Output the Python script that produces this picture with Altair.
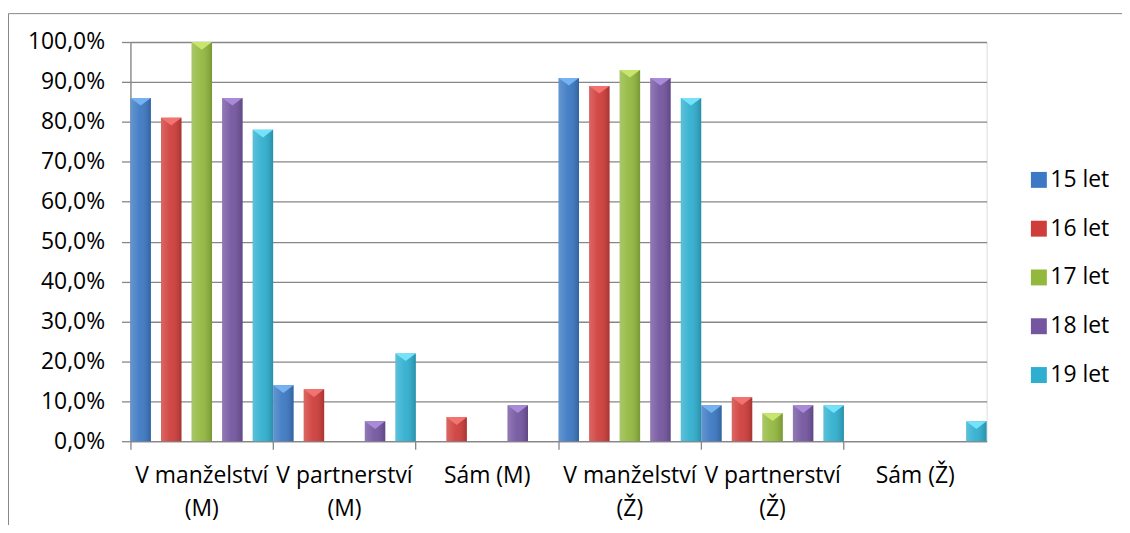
import altair as alt
import pandas as pd

categories = ["V manželství\n(M)", "V partnerství\n(M)", "Sám (M)",
              "V manželství\n(Ž)", "V partnerství\n(Ž)", "Sám (Ž)"]
series = ["15 let", "16 let", "17 let", "18 let", "19 let"]
v15 = [86, 14, 0, 91, 9, 0]
v16 = [81, 13, 6, 89, 11, 0]
v17 = [100, 0, 0, 93, 7, 0]
v18 = [86, 5, 9, 91, 9, 0]
v19 = [78, 22, 0, 86, 9, 5]
colors = ["#3c78c3", "#cf3d3a", "#92b83e", "#7355a0", "#2fafcf"]
light_colors = ["#74b2f2", "#f27370", "#c8e66e", "#a98ad9", "#74e2fb"]
y_ticks = [0, 10, 20, 30, 40, 50, 60, 70, 80, 90, 100]

rows = []
for s, vals in zip(series, [v15, v16, v17, v18, v19]):
    for c, v in zip(categories, vals):
        rows.append({"cat": c, "series": s, "value": v})
df = pd.DataFrame(rows)

FONT = "Open Sans"
FS = 23
GRAY = "#868686"

base = alt.Chart(df).encode(
    x=alt.X("cat:N", sort=categories,
            scale=alt.Scale(paddingInner=0, paddingOuter=0),
            axis=alt.Axis(title=None, labelAngle=0, bandPosition=0,
                          labelExpr="split(datum.label, '\\n')",
                          labelOverlap=False, labelLimit=400,
                          labelLineHeight=34, labelPadding=15,
                          tickSize=8, tickColor=GRAY, domainColor=GRAY,
                          domainWidth=1.3, tickWidth=1.3, grid=False,
                          labelFontSize=FS, labelColor="#000000",
                          labelFont=FONT, labelBaseline="top")),
    xOffset=alt.XOffset("series:N", sort=series,
                        scale=alt.Scale(paddingInner=0.33, paddingOuter=0)),
    y=alt.Y("value:Q", scale=alt.Scale(domain=[0, 100], nice=False),
            axis=alt.Axis(title=None, values=y_ticks, grid=True,
                          gridColor=GRAY, gridWidth=1.3,
                          domainColor=GRAY, domainWidth=1.3,
                          tickColor=GRAY, tickWidth=1.3, tickSize=9,
                          labelPadding=17, labelFontSize=FS,
                          labelColor="#000000", labelFont=FONT,
                          labelExpr="replace(format(datum.value, '.1f'), '.', ',') + '%'")),
)

bars = base.mark_bar().encode(
    color=alt.Color("series:N", sort=series,
                    scale=alt.Scale(domain=series, range=colors),
                    legend=alt.Legend(title=None, orient="none",
                                      legendX=901, legendY=127,
                                      symbolType="square", symbolSize=256,
                                      symbolStrokeWidth=0,
                                      labelFontSize=FS, labelFont=FONT,
                                      labelColor="#000000", rowPadding=25,
                                      labelOffset=0))
)

shade = base.mark_bar(
    color=alt.LinearGradient(
        gradient="linear", x1=0, x2=1, y1=0, y2=0,
        stops=[alt.GradientStop(color="rgba(255,255,255,0.22)", offset=0),
               alt.GradientStop(color="rgba(255,255,255,0.06)", offset=0.45),
               alt.GradientStop(color="rgba(0,0,0,0.18)", offset=1)])
)

bevel = base.transform_filter("datum.value > 0").mark_point(
    shape="M-1,0L1,0L0,0.75Z", size=420, filled=True, opacity=1, strokeWidth=0
).encode(
    color=alt.Color("series:N", sort=series,
                    scale=alt.Scale(domain=series, range=light_colors),
                    legend=None)
)

border = alt.Chart(pd.DataFrame({"k": [0]})).mark_rect(
    fillOpacity=0, stroke=GRAY, strokeWidth=1
).encode(x=alt.value(-122.5), x2=alt.value(1200),
         y=alt.value(-28.5), y2=alt.value(700))

chart = alt.layer(border, bars, shade, bevel).resolve_scale(
    color="independent"
).properties(
    width=860, height=401,
    autosize=alt.AutoSizeParams(type="none"),
    padding={"left": 123, "top": 33, "right": 136, "bottom": 83},
).configure_view(strokeWidth=0).configure(font=FONT)

chart.save("out.html", embed_options={"renderer": "svg", "actions": False})
